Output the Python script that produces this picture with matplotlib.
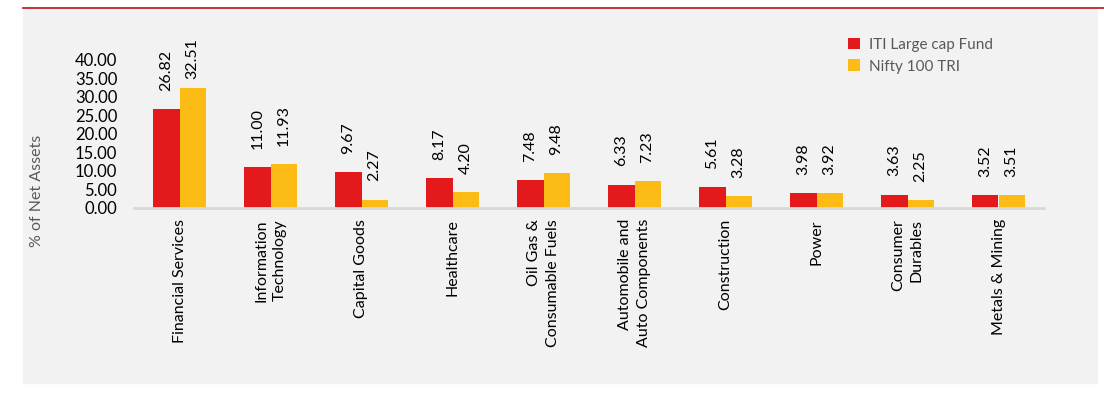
import numpy as np
import matplotlib
matplotlib.use('Agg')
import matplotlib.pyplot as plt
from matplotlib.patches import Rectangle
from matplotlib.lines import Line2D

sectors = ['Financial Services', 'Information\nTechnology', 'Capital Goods', 'Healthcare',
           'Oil Gas &\nConsumable Fuels', 'Automobile and\nAuto Components', 'Construction',
           'Power', 'Consumer\nDurables', 'Metals & Mining']
fund_vals  = [26.82, 11.00, 9.67, 8.17, 7.48, 6.33, 5.61, 3.98, 3.63, 3.52]
bench_vals = [32.51, 11.93, 2.27, 4.20, 9.48, 7.23, 3.28, 3.92, 2.25, 3.51]
series_names = ['ITI Large cap Fund', 'Nifty 100 TRI']
y_ticks = [0, 5, 10, 15, 20, 25, 30, 35, 40]

RED    = '#E3191B'
YELLOW = '#FDBC15'
PANEL  = '#F2F2F2'
GREYTX = '#595959'

plt.rcParams['font.family'] = ['Lato', 'DejaVu Sans']

W, H = 1104, 394
fig = plt.figure(figsize=(W/100, H/100), dpi=100)

# grey panel + red rule on top
fig.patches.append(Rectangle((23/W, 1-383/H), (1097-23)/W, (383-9)/H,
                             transform=fig.transFigure, color=PANEL, zorder=-5))
fig.lines.append(Line2D([23/W, 1.0], [1-7.5/H, 1-7.5/H], transform=fig.transFigure,
                        color='#C0242C', lw=1.3))

ax = fig.add_axes([134/W, 186/H, 910/W, 168/H])
ax.set_facecolor('none')
ax.set_zorder(2)

x = np.arange(len(sectors))
bw = 0.286
ax.bar(x - bw/2, fund_vals, bw, color=RED, label=series_names[0], zorder=2)
ax.bar(x + bw/2, bench_vals, bw, color=YELLOW, label=series_names[1], zorder=2)

ytop = 45.4
ax.set_ylim(0, ytop)
ax.set_xlim(-0.5, len(sectors) - 0.5)

# value labels, pushed down when they would run past the top
for xs, vals in ((x - bw/2, fund_vals), (x + bw/2, bench_vals)):
    for xi, v in zip(xs, vals):
        yb = min(v + 4.9, ytop - 10.6)
        ax.text(xi, yb, f'{v:.2f}', rotation=90, ha='center', va='bottom',
                fontsize=11.5, color='black')

ax.set_yticks(y_ticks)
ax.set_yticklabels([f'{t:.2f}' for t in y_ticks], fontsize=12)
ax.set_xticks(x)
ax.set_xticklabels(sectors, rotation=90, fontsize=11.5, multialignment='right',
                   linespacing=1.45)
ax.tick_params(axis='both', length=0)
ax.tick_params(axis='x', pad=8)
ax.tick_params(axis='y', pad=12)

for s in ('top', 'right', 'left'):
    ax.spines[s].set_visible(False)
ax.spines['bottom'].set_color('#D9D9D9')
ax.spines['bottom'].set_linewidth(2)

fig.text(37/W, 1-191/H, '% of Net Assets', rotation=90, ha='center', va='center',
         fontsize=11.5, color=GREYTX)

leg = ax.legend(loc='upper left', bbox_to_anchor=(840/W, 1-30/H),
                bbox_transform=fig.transFigure, frameon=False, fontsize=11,
                handlelength=0.8, handleheight=0.8, handletextpad=0.6,
                labelspacing=0.5, borderpad=0)
for t in leg.get_texts():
    t.set_color(GREYTX)

fig.savefig('out.png', dpi=100, facecolor='white')
